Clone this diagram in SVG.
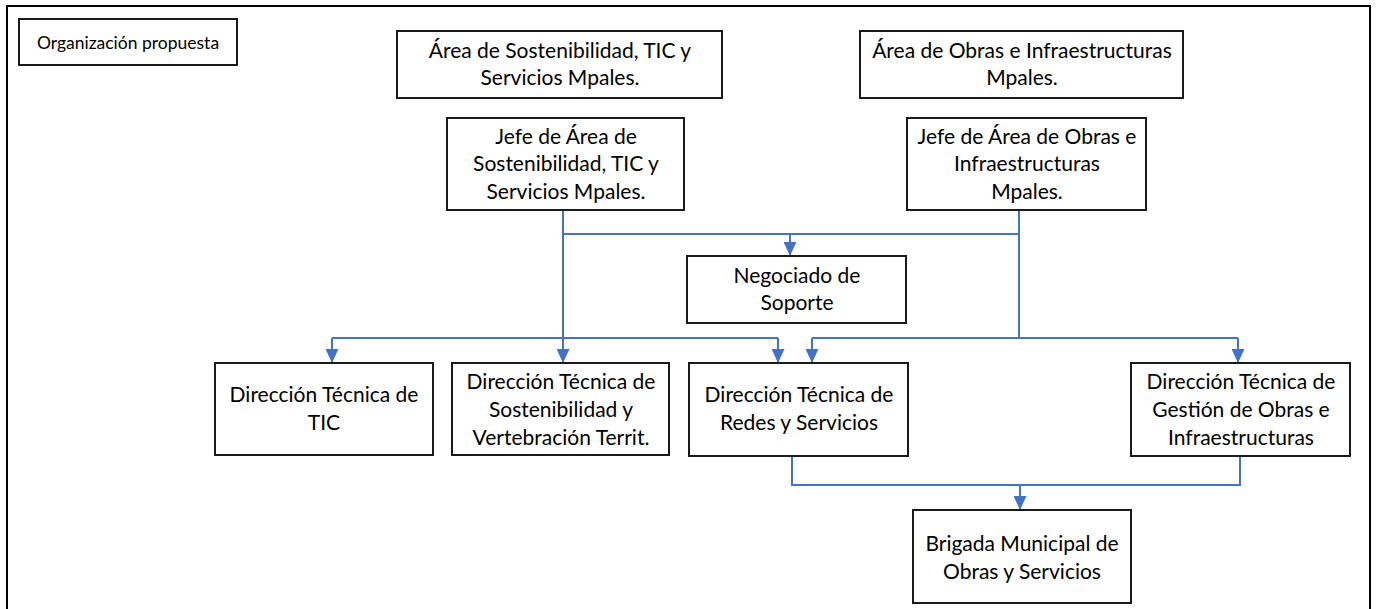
<svg xmlns="http://www.w3.org/2000/svg" width="1378" height="609" viewBox="0 0 1378 609">
<style>
.box{fill:#fff;stroke:#1a1a1a;stroke-width:2}
.t{font-family:Lato,"Open Sans","Liberation Sans",sans-serif;font-size:21px;fill:#000;text-anchor:middle}
.s{font-size:17.5px}
.c{fill:none;stroke:#4472C4;stroke-width:2}
</style>
<defs>
<marker id="ah" markerWidth="14" markerHeight="13" refX="14" refY="6.5" orient="auto" markerUnits="userSpaceOnUse" viewBox="0 0 14 13">
<path d="M0,0 L14,6.5 L0,13 Z" fill="#4472C4"/>
</marker>
</defs>
<rect x="0" y="0" width="1378" height="609" fill="#fff"/>
<rect x="7" y="6" width="1363" height="620" fill="none" stroke="#000" stroke-width="2"/>

<g id="connectors">
<path class="c" d="M563,210 V338"/>
<path class="c" d="M563,234 H1019"/>
<path class="c" d="M790,234 V256" marker-end="url(#ah)"/>
<path class="c" d="M1019,210 V338"/>
<path class="c" d="M332,338 H778"/>
<path class="c" d="M332,338 V363" marker-end="url(#ah)"/>
<path class="c" d="M563,338 V363" marker-end="url(#ah)"/>
<path class="c" d="M778,338 V363" marker-end="url(#ah)"/>
<path class="c" d="M812,338 H1238"/>
<path class="c" d="M812,338 V363" marker-end="url(#ah)"/>
<path class="c" d="M1238,338 V363" marker-end="url(#ah)"/>
<path class="c" d="M792,456 V485 H1240 V456"/>
<path class="c" d="M1020,485 V510" marker-end="url(#ah)"/>
</g>

<g id="n_title">
<rect class="box" x="19" y="19" width="218" height="46"/>
<text class="t s" x="128" y="49">Organización propuesta</text>
</g>
<g id="n_area_sost">
<rect class="box" x="397" y="31" width="325" height="67"/>
<text class="t" x="560" y="58">Área de Sostenibilidad, TIC y</text>
<text class="t" x="560" y="85">Servicios Mpales.</text>
</g>
<g id="n_area_obras">
<rect class="box" x="860" y="31" width="323" height="67"/>
<text class="t" x="1022" y="58">Área de Obras e Infraestructuras</text>
<text class="t" x="1022" y="85">Mpales.</text>
</g>
<g id="n_jefe_sost">
<rect class="box" x="447" y="118" width="237" height="92"/>
<text class="t" x="566" y="144">Jefe de Área de</text>
<text class="t" x="566" y="171">Sostenibilidad, TIC y</text>
<text class="t" x="566" y="199">Servicios Mpales.</text>
</g>
<g id="n_jefe_obras">
<rect class="box" x="907" y="118" width="239" height="92"/>
<text class="t" x="1027" y="144">Jefe de Área de Obras e</text>
<text class="t" x="1027" y="171">Infraestructuras</text>
<text class="t" x="1027" y="199">Mpales.</text>
</g>
<g id="n_negociado">
<rect class="box" x="687" y="256" width="219" height="67"/>
<text class="t" x="797" y="283">Negociado de</text>
<text class="t" x="797" y="310">Soporte</text>
</g>
<g id="n_dir_tic">
<rect class="box" x="215" y="363" width="218" height="92"/>
<text class="t" x="324" y="402">Dirección Técnica de</text>
<text class="t" x="324" y="430">TIC</text>
</g>
<g id="n_dir_sost">
<rect class="box" x="452" y="363" width="217" height="92"/>
<text class="t" x="561" y="389">Dirección Técnica de</text>
<text class="t" x="561" y="417">Sostenibilidad y</text>
<text class="t" x="561" y="445">Vertebración Territ.</text>
</g>
<g id="n_dir_redes">
<rect class="box" x="689" y="363" width="219" height="93"/>
<text class="t" x="799" y="402">Dirección Técnica de</text>
<text class="t" x="799" y="430">Redes y Servicios</text>
</g>
<g id="n_dir_gestion">
<rect class="box" x="1131" y="363" width="219" height="93"/>
<text class="t" x="1241" y="389">Dirección Técnica de</text>
<text class="t" x="1241" y="417">Gestión de Obras e</text>
<text class="t" x="1241" y="445">Infraestructuras</text>
</g>
<g id="n_brigada">
<rect class="box" x="913" y="510" width="218" height="93"/>
<text class="t" x="1022" y="551">Brigada Municipal de</text>
<text class="t" x="1022" y="579">Obras y Servicios</text>
</g>
</svg>
